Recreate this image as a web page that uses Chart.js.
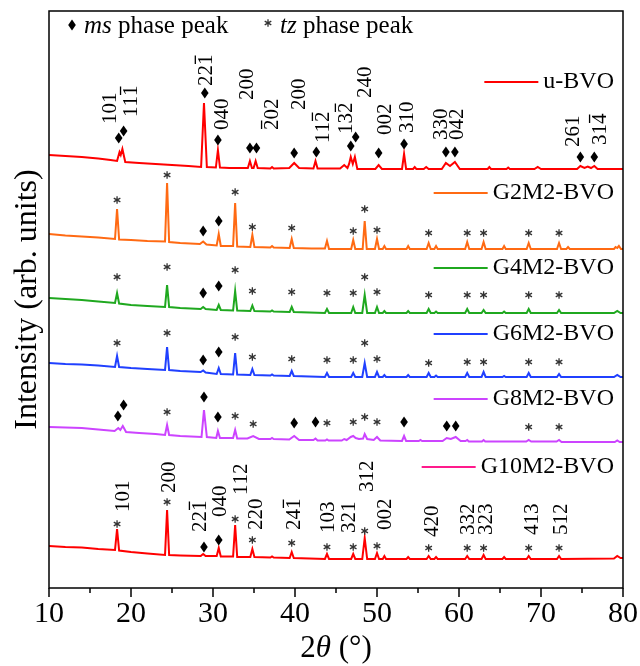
<!DOCTYPE html>
<html>
<head>
<meta charset="utf-8">
<script src="https://cdn.jsdelivr.net/npm/chart.js@4.4.0/dist/chart.umd.min.js"></script>
<style>
  html, body { margin: 0; padding: 0; background: #fff; }
  #wrap { width: 640px; height: 666px; }
</style>
</head>
<body>
<div id="wrap"><canvas id="xrdChart" width="640" height="666"></canvas></div>
<script>
// series names, top to bottom
const seriesNames = ['u-BVO', 'G2M2-BVO', 'G4M2-BVO', 'G6M2-BVO', 'G8M2-BVO', 'G10M2-BVO'];

// traces: [2theta, intensity (stacked, arb. units)]
const uBVO = [[10,433],[12,432],[14,431],[16,429.5],[17.5,428],[18.3,427],[18.6,436],[18.75,433],[18.95,439],[19.3,426],[21,425],[23,424],[25,423],[27,422],[28.55,421],[28.9,485],[29.25,421],[30.35,420.5],[30.6,438],[30.85,420.5],[32,420],[34.25,420],[34.5,427],[34.75,420],[34.95,420],[35.2,427],[35.45,420],[37,419.5],[37.2,421],[37.4,419.5],[39.3,420],[39.9,425],[40.5,420],[42.25,419.5],[42.5,427],[42.75,419.5],[45.5,419.5],[46,423],[46.4,420],[46.6,424],[46.8,431],[47.05,424],[47.3,431],[47.6,419],[49.8,419],[50.2,423],[50.6,419],[53.05,419],[53.3,434],[53.55,419],[54.4,419],[54.6,421],[54.8,419],[55.7,419],[56,421],[56.3,419],[57.9,419],[58.4,425],[58.9,422],[59.5,426],[60.1,419],[63.5,419],[63.7,421],[63.9,419],[65.8,419],[66,420.5],[66.2,419],[69.2,419],[69.6,421],[70,419],[74.4,419],[74.8,422],[75.3,420],[75.7,421.5],[76.1,420],[76.5,422],[76.9,419],[80,419]];
const g2m2 = [[10,354],[12,352.5],[14,351.5],[16,350.5],[18.05,349],[18.3,379],[18.55,348.5],[20,348],[22,347],[24.15,346.5],[24.4,405],[24.65,346],[26,345],[28.4,344],[28.8,346.5],[29.2,343.5],[30.45,342.5],[30.7,354],[30.95,342],[32.45,342],[32.7,385],[32.95,341.5],[34.55,341],[34.8,353],[35.05,341],[37,340.5],[37.2,342],[37.4,340.5],[39.35,340],[39.6,349],[39.85,340],[42,339.5],[43.65,339.5],[43.9,347],[44.15,339],[46.85,339],[47.1,348],[47.35,339],[48.25,339],[48.5,367],[48.75,339],[49.75,339],[50,349],[50.25,339],[50.7,339],[50.9,342],[51.1,339],[53.6,339],[53.8,342],[54,339],[56.05,339],[56.3,345],[56.55,339],[57,339],[57.2,342],[57.4,339],[60.75,339],[61,346],[61.25,339],[62.75,339],[63,346],[63.25,339],[65.3,339],[65.5,342],[65.7,339],[68.25,339],[68.5,345],[68.75,339],[71.95,339],[72.2,345],[72.45,339],[73.1,339],[73.3,341],[73.5,339],[78.9,339],[79.1,341],[79.3,340],[79.5,342],[79.75,339],[80,339]];
const g4m2 = [[10,290],[12,289],[14,288],[16,286.5],[18.05,285],[18.3,295],[18.55,284.5],[20,283],[22,282],[24.15,281],[24.4,303],[24.65,281],[26,280],[28.5,279],[28.8,281],[29.1,279],[30.45,278],[30.7,283],[30.95,278],[32.45,277.5],[32.7,297],[32.95,277.5],[34.55,277],[34.8,282.5],[35.05,277],[37,276.5],[37.2,277.5],[37.4,276.5],[39.35,276],[39.6,281],[39.85,276],[43.65,275],[43.9,279],[44.15,275],[46.85,275],[47.1,281],[47.35,275],[48.2,275],[48.5,293],[48.8,275],[49.75,275],[50,281],[50.25,275],[50.7,275],[50.9,277],[51.1,275],[53.6,275],[53.8,277],[54,275],[56.05,275],[56.3,279],[56.55,275],[57,275],[57.2,276.5],[57.4,275],[60.75,275],[61,279],[61.25,275],[62.75,275],[63,278],[63.25,275],[65.3,275],[65.5,276.5],[65.7,275],[68.25,275],[68.5,279],[68.75,275],[71.95,275],[72.2,278],[72.45,275],[78.9,275],[79.3,277],[79.7,275],[80,275]];
const g6m2 = [[10,225],[12,224],[14,223.5],[16,222.5],[18.05,221],[18.3,232],[18.55,221],[20,220],[22,219],[24.15,218],[24.4,241],[24.65,218],[26,217],[28.5,216],[28.8,217.5],[29.1,215.5],[30.45,214],[30.7,220],[30.95,214],[32.45,213.5],[32.7,235],[32.95,213.5],[34.55,213],[34.8,219],[35.05,213],[37,212.5],[37.2,213.5],[37.4,212.5],[39.35,212],[39.6,217],[39.85,212],[43.65,211],[43.9,215],[44.15,211],[46.85,211],[47.1,215],[47.35,211],[48.2,211],[48.5,225],[48.8,211],[49.75,211],[50,216],[50.25,211],[50.7,211],[50.9,213],[51.1,211],[53.6,211],[53.8,213],[54,211],[56.05,211],[56.3,215],[56.55,211],[57,211],[57.2,212.5],[57.4,211],[60.75,211],[61,215],[61.25,211],[62.75,211],[63,216],[63.25,211],[65.3,211],[65.5,212],[65.7,211],[68.25,211],[68.5,215],[68.75,211],[71.95,211],[72.2,214],[72.45,211],[78.9,211],[79.3,213],[79.7,211],[80,211]];
const g8m2 = [[10,161],[12,160.5],[14,160],[16,158.5],[18,157],[18.45,160],[18.7,158],[19,162],[19.4,156],[21,155],[23,154],[24.15,153],[24.4,163],[24.65,153],[26,152],[28.6,151],[28.9,178],[29.25,151],[30.4,150],[30.6,157],[30.85,150],[32.45,150],[32.7,158],[32.95,149.5],[34.2,149.5],[34.9,152],[35.6,149],[37,149],[37.2,150],[37.4,149],[39.3,148.5],[39.9,152],[40.5,148],[42.25,148],[42.5,149.5],[42.75,147.5],[43.7,147.5],[43.9,148.5],[44.1,147.5],[45.7,147.5],[46,149],[46.3,148],[46.8,151],[47.1,152],[47.4,150],[47.8,149],[48.3,149.5],[48.5,154],[48.8,149],[49.6,148],[50,151],[50.4,147.5],[53.05,147],[53.3,152],[53.55,147],[55.1,147],[55.3,148],[55.5,147],[58,147],[58.5,150],[59,149],[59.6,151],[60.2,147],[60.8,147],[61,148],[61.2,146.5],[62.8,146.5],[63,148],[63.2,146.5],[68.2,146.5],[68.5,148],[68.8,146.5],[71.9,146.5],[72.2,148],[72.5,146],[79,146],[79.3,147.5],[79.6,146],[80,146]];
const g10m2 = [[10,42],[12,41],[14,40.5],[16,39],[18.05,38],[18.3,59],[18.55,37.5],[20,36],[22,34.5],[24.15,33],[24.4,78],[24.65,33],[26,32.5],[28.5,32],[28.8,34],[29.1,32],[30.45,32],[30.7,40],[30.95,31.5],[32.45,31.5],[32.7,63],[32.95,31],[34.55,31],[34.8,39],[35.05,31],[37,30.5],[37.2,31.5],[37.4,30.5],[39.35,30],[39.6,36],[39.85,30],[43.65,29],[43.9,34],[44.15,29],[46.85,29],[47.1,34],[47.35,29],[48.2,29],[48.5,50],[48.8,29],[49.75,29],[50,35],[50.25,29],[50.7,29],[50.9,32],[51.1,29],[53.6,29],[53.8,31],[54,29],[56.05,29],[56.3,32],[56.55,29],[57,29],[57.2,31],[57.4,29],[60.75,29],[61,32],[61.25,29],[62.75,29],[63,33],[63.25,29],[65.3,29],[65.5,31],[65.7,29],[68.25,29],[68.5,32],[68.75,29],[71.95,29],[72.2,32],[72.45,29],[78.9,29.5],[79.3,32],[79.7,30],[80,30]];

// phase markers: [2theta, level, 'd' = ms diamond / 's' = tz asterisk]
const uBVOMarks = [[18.5,450,'d'],[19.1,457,'d'],[29.0,495,'d'],[30.6,448,'d'],[34.5,440,'d'],[35.3,440,'d'],[39.9,435,'d'],[42.6,436,'d'],[46.8,442,'d'],[47.4,451,'d'],[50.2,435,'d'],[53.3,444,'d'],[58.4,436,'d'],[59.5,436,'d'],[74.8,431,'d'],[76.5,431,'d']];
const g2m2Marks = [[18.3,388,'s'],[24.4,413,'s'],[28.8,357,'d'],[30.7,367,'d'],[32.7,396,'s'],[34.8,361,'s'],[39.6,360,'s'],[47.1,357,'s'],[48.5,379,'s'],[50.0,358,'s'],[56.3,355,'s'],[61.0,355,'s'],[63.0,355,'s'],[68.5,355,'s'],[72.2,355,'s']];
const g4m2Marks = [[18.3,311,'s'],[24.4,321,'s'],[28.8,295,'d'],[30.7,302,'d'],[32.7,318,'s'],[34.8,297,'s'],[39.6,296,'s'],[43.9,295,'s'],[47.1,295,'s'],[48.5,311,'s'],[50.0,296,'s'],[56.3,293,'s'],[61.0,293,'s'],[63.0,293,'s'],[68.5,293,'s'],[72.2,293,'s']];
const g6m2Marks = [[18.3,245,'s'],[24.4,255,'s'],[28.8,228,'d'],[30.7,236,'d'],[32.7,251,'s'],[34.8,231,'s'],[39.6,229,'s'],[43.9,228,'s'],[47.1,228,'s'],[48.5,245,'s'],[50.0,229,'s'],[56.3,225,'s'],[61.0,226,'s'],[63.0,226,'s'],[68.5,226,'s'],[72.2,226,'s']];
const g8m2Marks = [[18.4,172,'d'],[19.1,183,'d'],[24.4,176,'s'],[28.9,191,'d'],[30.6,171,'d'],[32.7,172,'s'],[34.9,164,'s'],[39.9,165,'d'],[42.5,166,'d'],[43.9,165,'s'],[47.1,166,'s'],[48.5,171,'s'],[50.0,166,'s'],[53.3,166,'d'],[58.5,162,'d'],[59.6,162,'d'],[68.5,161,'s'],[72.2,161,'s']];
const g10m2Marks = [[18.3,64,'s'],[24.4,86,'s'],[28.9,41,'d'],[30.7,48,'d'],[32.7,69,'s'],[34.8,48,'s'],[39.6,45,'s'],[43.9,41,'s'],[47.1,41,'s'],[48.5,57,'s'],[50.0,42,'s'],[56.3,40,'s'],[61.0,40,'s'],[63.0,40,'s'],[68.5,40,'s'],[72.2,40,'s']];

// Miller index labels: [text ('~' = bar over next digit), 2theta, level of text start]
const msHkl = [['101',17.32,464],['11~1',19.9,471],['22~1',29.02,502],['040',30.98,458],['200',34.0,488],['~202',37.1,458],['200',40.37,478],['11~2',43.3,445],['13~2',46.1,454],['240',48.4,490],['002',50.85,453],['310',53.5,455],['330',57.7,448],['042',59.6,448],['261',73.8,441],['31~4',77.1,443]];
const tzHkl = [['101',18.9,76],['200',24.5,95],['22~1',28.3,56],['040',30.73,71],['112',33.3,93],['220',35.1,58],['24~1',39.76,58],['103',43.9,55],['321',46.46,55],['312',48.66,96],['002',50.85,58],['420',56.6,51],['332',61.0,53],['323',63.17,53],['413',68.8,53],['512',72.3,53]];

// legend rows sit next to each trace (level on the intensity axis)
const legendLevels = [506, 395, 320, 254, 189, 121];

const traceColors = ['#ff0000', '#ff6a13', '#1fa81f', '#2040ff', '#cc44ff', '#ff0000'];
const legendColors = ['#ff0000', '#ff6a13', '#1fa81f', '#2040ff', '#cc44ff', '#ff1a8c'];
const traces = [uBVO, g2m2, g4m2, g6m2, g8m2, g10m2];
const markSets = [uBVOMarks, g2m2Marks, g4m2Marks, g6m2Marks, g8m2Marks, g10m2Marks];

const SERIF = '"Liberation Serif", "Times New Roman", serif';

function drawDiamond(ctx, cx, cy) {
    ctx.beginPath();
    ctx.moveTo(cx, cy - 5.5);
    ctx.lineTo(cx + 3.8, cy);
    ctx.lineTo(cx, cy + 5.5);
    ctx.lineTo(cx - 3.8, cy);
    ctx.closePath();
    ctx.fillStyle = '#000';
    ctx.fill();
}

function drawStar(ctx, cx, cy) {
    ctx.strokeStyle = '#333';
    ctx.lineWidth = 1.3;
    ctx.beginPath();
    for (let k = 0; k < 3; k++) {
        const ang = Math.PI / 2 + k * Math.PI / 3;
        ctx.moveTo(cx - 3.8 * Math.cos(ang), cy - 3.8 * Math.sin(ang));
        ctx.lineTo(cx + 3.8 * Math.cos(ang), cy + 3.8 * Math.sin(ang));
    }
    ctx.stroke();
}

function drawHkl(ctx, text, cx, by) {
    const size = 21;
    ctx.save();
    ctx.translate(cx, by);
    ctx.rotate(-Math.PI / 2);
    ctx.font = size + 'px ' + SERIF;
    ctx.fillStyle = '#000';
    ctx.textAlign = 'left';
    ctx.textBaseline = 'alphabetic';
    const base = 0.338 * size;
    let pos = 0;
    let bar = false;
    for (const ch of text) {
        if (ch === '~') { bar = true; continue; }
        const w = ctx.measureText(ch).width;
        ctx.fillText(ch, pos, base);
        if (bar) {
            ctx.fillRect(pos + 1, base - 0.676 * size - 3.2, w - 2, 1.3);
            bar = false;
        }
        pos += w;
    }
    ctx.restore();
}

function drawRich(ctx, parts, x, y, size) {
    // parts: [text, italic?]
    let pos = x;
    parts.forEach(([t, it]) => {
        ctx.font = (it ? 'italic ' : '') + size + 'px ' + SERIF;
        ctx.fillText(t, pos, y);
        pos += ctx.measureText(t).width;
    });
    return pos;
}

function richWidth(ctx, parts, size) {
    let w = 0;
    parts.forEach(([t, it]) => {
        ctx.font = (it ? 'italic ' : '') + size + 'px ' + SERIF;
        w += ctx.measureText(t).width;
    });
    return w;
}

const xrdDecor = {
    id: 'xrdDecor',
    afterDraw(chart) {
        const { ctx, chartArea: a, scales: { x, y } } = chart;
        ctx.save();

        // frame
        ctx.strokeStyle = '#000';
        ctx.lineWidth = 1.5;
        ctx.strokeRect(a.left, a.top, a.right - a.left, a.bottom - a.top);

        // outward ticks, long on labelled values
        x.ticks.forEach((t) => {
            const px = x.getPixelForValue(t.value);
            const len = t.value % 10 === 0 ? 9 : 5;
            ctx.beginPath();
            ctx.moveTo(px, a.bottom);
            ctx.lineTo(px, a.bottom + len);
            ctx.stroke();
        });

        // phase markers
        markSets.forEach((set) => {
            set.forEach(([tt, lv, kind]) => {
                const px = x.getPixelForValue(tt);
                const py = y.getPixelForValue(lv);
                if (kind === 'd') drawDiamond(ctx, px, py);
                else drawStar(ctx, px, py);
            });
        });

        // Miller indices
        msHkl.concat(tzHkl).forEach(([txt, tt, lv]) => {
            drawHkl(ctx, txt, x.getPixelForValue(tt), y.getPixelForValue(lv));
        });

        // legend rows
        ctx.font = '24px ' + SERIF;
        ctx.textBaseline = 'middle';
        ctx.textAlign = 'right';
        seriesNames.forEach((name, i) => {
            const py = y.getPixelForValue(legendLevels[i]);
            const right = a.right - 9;
            ctx.fillStyle = '#000';
            ctx.fillText(name, right, py);
            const start = right - ctx.measureText(name).width - 5;
            ctx.strokeStyle = legendColors[i];
            ctx.lineWidth = 2;
            ctx.beginPath();
            ctx.moveTo(start - 54, py);
            ctx.lineTo(start, py);
            ctx.stroke();
        });

        // phase key at top
        ctx.textAlign = 'left';
        ctx.textBaseline = 'alphabetic';
        ctx.fillStyle = '#000';
        drawDiamond(ctx, a.left + 23, a.top + 14);
        drawRich(ctx, [['ms', true], [' phase peak', false]], a.left + 35, a.top + 22, 25);
        drawStar(ctx, a.left + 219, a.top + 12);
        drawRich(ctx, [['tz', true], [' phase peak', false]], a.left + 231, a.top + 22, 25);

        // x title
        const xt = [['2', false], ['\u03b8', true], [' (\u00b0)', false]];
        const xw = richWidth(ctx, xt, 31);
        ctx.fillStyle = '#000';
        drawRich(ctx, xt, (a.left + a.right) / 2 - xw / 2, 657, 31);

        // y title
        ctx.save();
        ctx.translate(28, (a.top + a.bottom) / 2);
        ctx.rotate(-Math.PI / 2);
        ctx.font = '32px ' + SERIF;
        ctx.textAlign = 'center';
        ctx.textBaseline = 'middle';
        ctx.fillText('Intensity (arb. units)', 0, 0);
        ctx.restore();

        ctx.restore();
    }
};

const ctx = document.getElementById('xrdChart').getContext('2d');
new Chart(ctx, {
    type: 'line',
    data: {
        datasets: traces.map((d, i) => ({
            label: seriesNames[i],
            data: d,
            borderColor: traceColors[i],
            borderWidth: 2,
            pointRadius: 0,
            tension: 0,
            fill: false
        }))
    },
    options: {
        responsive: false,
        animation: false,
        devicePixelRatio: 1,
        layout: { padding: { left: 49, right: 17, top: 11, bottom: 0 } },
        plugins: { legend: { display: false }, tooltip: { enabled: false } },
        scales: {
            x: {
                type: 'linear',
                min: 10,
                max: 80,
                grid: { display: false, drawTicks: false },
                border: { display: false },
                ticks: {
                    stepSize: 5,
                    autoSkip: false,
                    maxRotation: 0,
                    padding: 8,
                    color: '#000',
                    font: { family: SERIF, size: 30 },
                    callback: (v) => (v % 10 === 0 ? v : '')
                },
                afterFit: (s) => {
                    s.height = 78;
                    s.paddingLeft = 0;
                    s.paddingRight = 0;
                }
            },
            y: { display: false, min: 0, max: 577 }
        }
    },
    plugins: [xrdDecor]
});
</script>
</body>
</html>
